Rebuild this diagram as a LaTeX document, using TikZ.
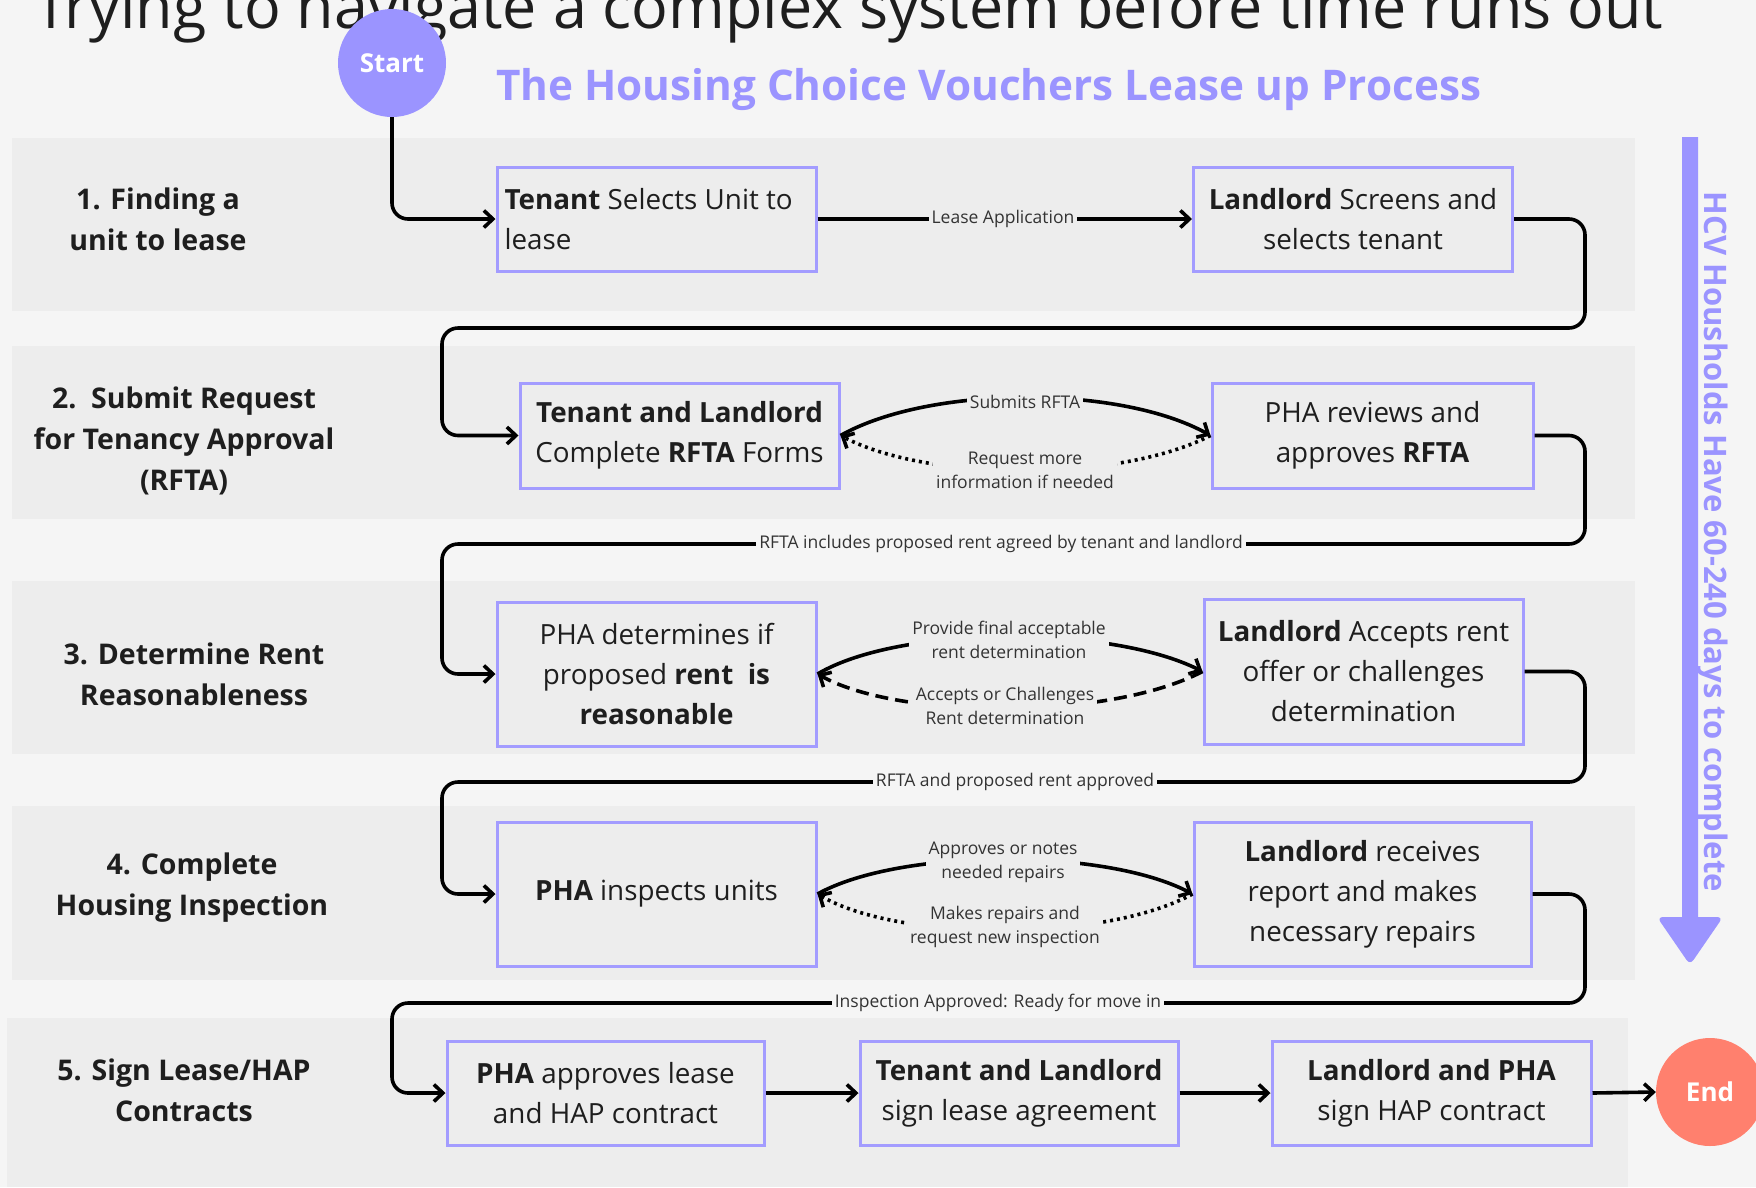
\documentclass[tikz,border=0pt]{standalone}
\usepackage{fontspec}
\usepackage{graphicx}
\setmainfont{Open Sans}
\usetikzlibrary{arrows.meta}
\definecolor{pagebg}{HTML}{F5F5F5}
\definecolor{band}{HTML}{EDEDED}
\definecolor{boxc}{HTML}{A39CFF}
\definecolor{lav}{HTML}{9B94FF}
\definecolor{salmon}{HTML}{FF806E}
\definecolor{txt}{HTML}{1E1E1E}
\definecolor{labtxt}{HTML}{333333}
\newcommand{\boxfont}{\fontsize{27.8}{40}\selectfont}
\newcommand{\labfont}{\fontsize{17.5}{24}\selectfont}
\newcommand{\stagefont}{\bfseries\fontsize{28.5}{41}\selectfont}
\tikzset{
  stepbox/.style={draw=boxc, line width=3pt, fill=band, minimum width=319pt,
    minimum height=104pt, inner sep=4pt, align=center, font=\boxfont, text=txt},
  conn/.style={line width=3.6pt, draw=black, rounded corners=16pt,
    -{Straight Barb[length=9pt,width=17pt]}},
  dotconn/.style={conn, dash pattern=on 3pt off 4pt},
  dashconn/.style={conn, dash pattern=on 13pt off 7pt},
  lab/.style={font=\labfont, text=labtxt, fill=band, inner sep=3pt, align=center},
  gaplab/.style={lab, fill=pagebg},
  stage/.style={font=\stagefont, text=txt, align=center, inner sep=0pt},
  bandbox/.style={fill=band, draw=none}
}
\begin{document}
\begin{tikzpicture}[x=1pt,y=-1pt]
\useasboundingbox (0,0) rectangle (1756,1187);
\fill[pagebg] (0,0) rectangle (1756,1187);
% bands
\fill[bandbox] (12,138) rectangle (1635,311);
\fill[bandbox] (12,346) rectangle (1635,519);
\fill[bandbox] (12,581) rectangle (1635,754);
\fill[bandbox] (12,806) rectangle (1635,980);
\fill[bandbox] (7,1018) rectangle (1628,1187);

% top heading (cut off at the top edge, as in the reference)
\node[anchor=base west, inner sep=0pt, text=txt] (heading) at (34,28)
  {\resizebox{1629pt}{!}{\fontsize{46}{50}\selectfont Trying to navigate a complex system before time runs out}};
% title
\node[anchor=base west, inner sep=0pt, text=lav] (title) at (496,100)
  {\resizebox{985pt}{!}{\bfseries\fontsize{42}{46}\selectfont The Housing Choice Vouchers Lease up Process}};

% start
\node[circle, fill=lav, minimum size=108pt, inner sep=0pt, text=white,
  font=\bfseries\fontsize{26}{30}\selectfont] (start) at (392,63) {Start};

% stage labels
\node[stage] (s1) at (158,219) {1. Finding a\\unit to lease};
\node[stage] (s2) at (184,441) {2.\ \ Submit Request\\for Tenancy Approval\\(RFTA)};
\node[stage] (s3) at (194,674) {3. Determine Rent\\Reasonableness};
\node[stage] (s4) at (192,888) {4. Complete\\Housing Inspection};
\node[stage] (s5) at (184,1090) {5. Sign Lease/HAP\\Contracts};

% boxes
\node[stepbox, align=flush left, text width=304pt, inner xsep=3pt] (A) at (656.5,219) {\textbf{Tenant} Selects Unit to\\lease};
\node[stepbox] (B) at (1353,219) {\textbf{Landlord} Screens and\\selects tenant};
\node[stepbox, minimum height=105pt] (C) at (679.5,435.5) {\textbf{Tenant and Landlord}\\Complete \textbf{RFTA} Forms};
\node[stepbox, minimum height=105pt, minimum width=321pt] (D) at (1372.5,435.5) {PHA reviews and\\approves \textbf{RFTA}};
\node[stepbox, minimum height=144pt] (E) at (656.5,674) {PHA determines if\\proposed \textbf{rent\ \ is}\\\textbf{reasonable}};
\node[stepbox, minimum height=145pt] (F) at (1363.5,671.5) {\textbf{Landlord} Accepts rent\\offer or challenges\\determination};
\node[stepbox, minimum height=144pt] (G) at (656.5,894) {\textbf{PHA} inspects units};
\node[stepbox, minimum height=144pt, minimum width=337pt] (H) at (1362.5,894) {\textbf{Landlord} receives\\report and makes\\necessary repairs};
\node[stepbox, minimum width=317pt] (I) at (605.5,1093) {\textbf{PHA} approves lease\\and HAP contract};
\node[stepbox, minimum width=318pt] (J) at (1019,1093) {\textbf{Tenant and Landlord}\\sign lease agreement};
\node[stepbox] (K) at (1431.5,1093) {\textbf{Landlord and PHA}\\sign HAP contract};

\node[circle, fill=salmon, minimum size=108pt, inner sep=0pt, text=white,
  font=\bfseries\fontsize{26}{30}\selectfont] (end) at (1710,1092) {End};

% row connectors
\draw[conn] (start.south) |- (A.west);
\draw[conn] (A.east) -- (B.west);
\node[lab] (l1) at (1003,219) {Lease Application};

\draw[conn] (B.east) -| (1585,328) -- (442,328) |- (C.west);
\draw[conn] (C.east) .. controls (930,385) and (1120,385) .. (D.west);
\draw[dotconn] (D.west) .. controls (1120,482) and (930,482) .. (C.east);
\node[lab] (l2a) at (1025,402) {Submits RFTA};
\node[lab] (l2b) at (1025,470) {Request more\\information if needed};

\draw[conn] (D.east) -| (1585,544) -- (442,544) |- (E.west);
\node[gaplab] (l23) at (1001,544) {RFTA includes proposed rent agreed by tenant and landlord};

\draw[conn] (E.east) .. controls (900,625) and (1110,625) .. (F.west);
\draw[dashconn] (F.west) .. controls (1110,720) and (900,720) .. (E.east);
\node[lab] (l3a) at (1009,640) {Provide final acceptable\\rent determination};
\node[lab] (l3b) at (1005,706) {Accepts or Challenges\\Rent determination};

\draw[conn] (F.east) -| (1585,782) -- (442,782) |- (G.west);
\node[gaplab] (l34) at (1015,782) {RFTA and proposed rent approved};

\draw[conn] (G.east) .. controls (900,848) and (1105,848) .. (H.west);
\draw[dotconn] (H.west) .. controls (1105,942) and (900,942) .. (G.east);
\node[lab] (l4a) at (1003,862) {Approves or notes\\needed repairs};
\node[lab] (l4b) at (1005,927) {Makes repairs and\\request new inspection};

\draw[conn] (H.east) -| (1585,1003) -- (392,1003) |- (I.west);
\node[gaplab] (l45) at (998,1003) {Inspection Approved: Ready for move in};

\draw[conn] (I.east) -- (J.west);
\draw[conn] (J.east) -- (K.west);
\draw[conn] (K.east) -- (end.west);

% time arrow
\fill[lav] (1682,137) -- (1698,137) -- (1698,917)
  [rounded corners=6pt] -- (1723,917) -- (1690,965) -- (1657,917) [sharp corners] -- (1682,917) -- cycle;
\node[rotate=-90, text=lav, inner sep=0pt] (timetxt) at (1713,542)
  {\resizebox{700pt}{!}{\bfseries\fontsize{23}{26}\selectfont HCV Housholds Have 60-240 days to complete}};
\end{tikzpicture}
\end{document}
